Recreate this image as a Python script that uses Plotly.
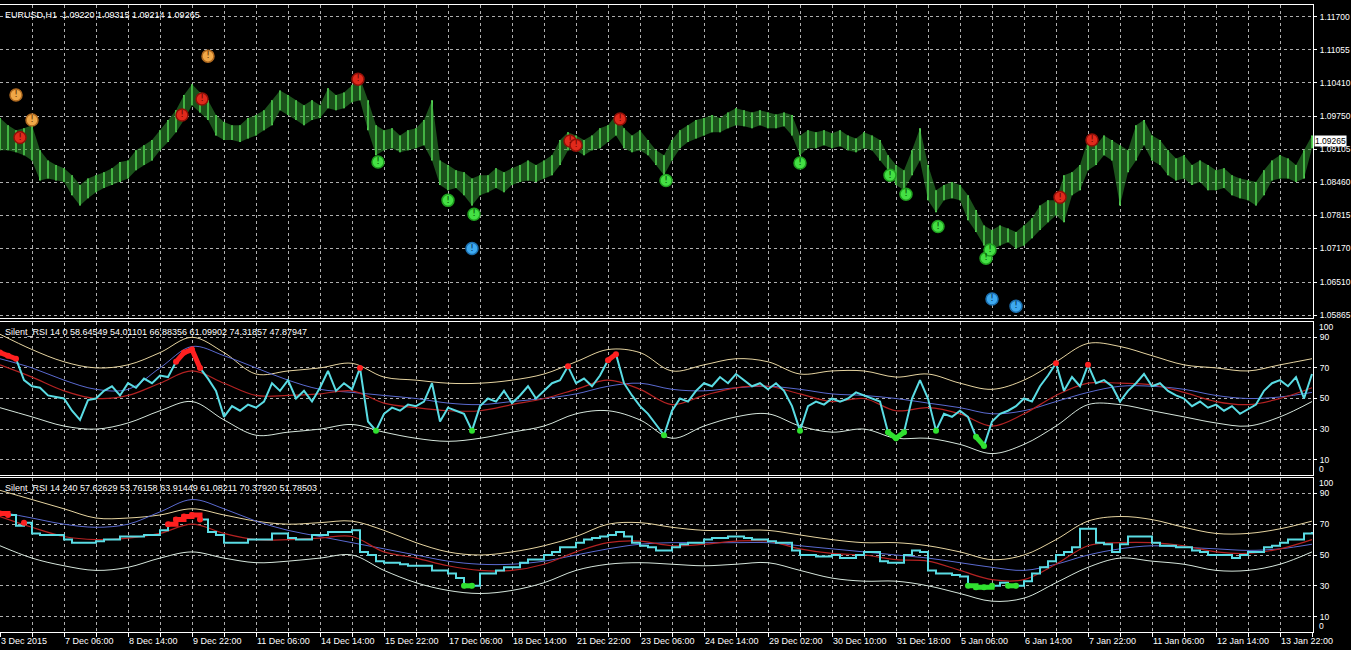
import plotly.graph_objects as go

# ---------------- data ----------------
SAMPLE_STEP = 4      # bars between price / RSI samples
SMOOTH_STEP = 16     # bars between samples of the smooth indicator lines

PRICE_HIGH = [
    1.0972, 1.0958, 1.0948, 1.0952, 1.0958, 1.0909, 1.0889, 1.0880,
    1.0874, 1.0860, 1.0841, 1.0854, 1.0860, 1.0866, 1.0874, 1.0886,
    1.0889, 1.0909, 1.0919, 1.0929, 1.0948, 1.0968, 1.0987, 1.1017,
    1.1038, 1.1022, 1.1007, 1.0978, 1.0964, 1.0958, 1.0958, 1.0972,
    1.0978, 1.0987, 1.1007, 1.1026, 1.1017, 1.1007, 1.0997, 1.1007,
    1.0997, 1.1030, 1.1017, 1.1022, 1.1036, 1.1050, 1.1007, 1.0958,
    1.0948, 1.0952, 1.0938, 1.0948, 1.0952, 1.0968, 1.1007, 1.0889,
    1.0880, 1.0870, 1.0866, 1.0854, 1.0860, 1.0860, 1.0874, 1.0866,
    1.0874, 1.0880, 1.0889, 1.0880, 1.0889, 1.0899, 1.0929, 1.0944,
    1.0938, 1.0929, 1.0938, 1.0952, 1.0958, 1.0978, 1.0952, 1.0938,
    1.0948, 1.0929, 1.0909, 1.0899, 1.0929, 1.0948, 1.0958, 1.0968,
    1.0972, 1.0978, 1.0972, 1.0983, 1.0991, 1.0987, 1.0983, 1.0987,
    1.0983, 1.0979, 1.0983, 1.0978, 1.0938, 1.0948, 1.0944, 1.0948,
    1.0942, 1.0948, 1.0938, 1.0932, 1.0944, 1.0938, 1.0929, 1.0899,
    1.0880, 1.0870, 1.0909, 1.0952, 1.0880, 1.0831, 1.0841, 1.0847,
    1.0841, 1.0821, 1.0792, 1.0762, 1.0753, 1.0762, 1.0756, 1.0749,
    1.0762, 1.0776, 1.0801, 1.0811, 1.0811, 1.0860, 1.0866, 1.0880,
    1.0929, 1.0919, 1.0938, 1.0929, 1.0919, 1.0909, 1.0958, 1.0968,
    1.0938, 1.0929, 1.0909, 1.0893, 1.0899, 1.0880, 1.0889, 1.0880,
    1.0870, 1.0874, 1.0860, 1.0854, 1.0850, 1.0847, 1.0870, 1.0889,
    1.0899, 1.0893, 1.0880, 1.0909, 1.0938,
]
PRICE_LOW = [
    1.0909, 1.0909, 1.0905, 1.0899, 1.0889, 1.0850, 1.0854, 1.0850,
    1.0847, 1.0821, 1.0801, 1.0815, 1.0827, 1.0835, 1.0841, 1.0847,
    1.0854, 1.0870, 1.0880, 1.0889, 1.0909, 1.0925, 1.0944, 1.0968,
    1.0997, 1.0983, 1.0968, 1.0938, 1.0929, 1.0929, 1.0925, 1.0932,
    1.0938, 1.0948, 1.0958, 1.0987, 1.0978, 1.0968, 1.0958, 1.0968,
    1.0972, 1.0991, 1.0987, 1.0991, 1.1003, 1.1007, 1.0948, 1.0899,
    1.0909, 1.0913, 1.0905, 1.0909, 1.0913, 1.0919, 1.0889, 1.0841,
    1.0831, 1.0835, 1.0821, 1.0801, 1.0821, 1.0827, 1.0835, 1.0827,
    1.0841, 1.0847, 1.0850, 1.0847, 1.0854, 1.0860, 1.0880, 1.0909,
    1.0909, 1.0899, 1.0909, 1.0913, 1.0925, 1.0938, 1.0913, 1.0905,
    1.0909, 1.0899, 1.0880, 1.0860, 1.0889, 1.0913, 1.0925, 1.0932,
    1.0938, 1.0944, 1.0944, 1.0952, 1.0958, 1.0956, 1.0952, 1.0958,
    1.0952, 1.0952, 1.0956, 1.0938, 1.0899, 1.0913, 1.0913, 1.0919,
    1.0913, 1.0917, 1.0909, 1.0905, 1.0913, 1.0909, 1.0889, 1.0870,
    1.0841, 1.0831, 1.0860, 1.0889, 1.0811, 1.0788, 1.0811, 1.0815,
    1.0811, 1.0772, 1.0749, 1.0723, 1.0714, 1.0723, 1.0729, 1.0717,
    1.0723, 1.0737, 1.0753, 1.0768, 1.0782, 1.0768, 1.0821, 1.0831,
    1.0870, 1.0880, 1.0899, 1.0889, 1.0801, 1.0866, 1.0889, 1.0919,
    1.0889, 1.0880, 1.0860, 1.0850, 1.0854, 1.0841, 1.0847, 1.0831,
    1.0831, 1.0835, 1.0821, 1.0815, 1.0811, 1.0801, 1.0821, 1.0850,
    1.0854, 1.0854, 1.0847, 1.0854, 1.0913,
]

RSI1 = [
    80, 78, 76, 62, 58, 57, 52, 51,
    50, 42, 36, 49, 50, 55, 58, 52,
    60, 57, 63, 60, 65, 64, 74, 80,
    82, 70, 63, 55, 38, 45, 42, 46,
    44, 48, 60, 55, 62, 50, 55, 48,
    57, 68, 55, 60, 56, 70, 35, 29,
    40, 44, 42, 46, 45, 48, 60, 35,
    44, 42, 40, 29, 45, 50, 48, 55,
    47, 52, 58, 50, 55, 60, 62, 71,
    60, 63, 58, 65, 75, 79, 60, 52,
    45, 40, 33, 26, 42, 50, 48, 55,
    60, 58, 64, 60, 66, 62, 58, 60,
    56, 60, 55, 45, 29, 45, 48, 46,
    50, 48, 50, 54, 52, 50, 48, 28,
    24, 28, 50, 62, 50, 29, 40, 38,
    42, 38, 25, 19, 35, 40, 42, 45,
    50, 48, 58, 65, 73, 55, 64, 58,
    72, 60, 62, 58, 48, 55, 60, 66,
    58, 60, 55, 52, 50, 45, 48, 44,
    46, 42, 45, 40, 43, 46, 55, 60,
    62, 58, 64, 50, 66,
]
RSI2 = [
    77, 76, 69, 71, 64, 63, 63, 63,
    60, 58, 58, 58, 59, 60, 60, 62,
    62, 62, 63, 63, 66, 70, 73, 75,
    76, 73, 65, 63, 58, 58, 58, 60,
    60, 60, 64, 64, 61, 60, 60, 63,
    63, 65, 65, 65, 66, 52, 50, 46,
    45, 45, 44, 43, 43, 43, 40, 40,
    38, 35, 30, 30, 38, 38, 40, 42,
    42, 45, 47, 47, 50, 52, 55, 55,
    58, 60, 61, 62, 63, 65, 62, 58,
    56, 55, 53, 53, 55, 57, 58, 58,
    60, 61, 61, 62, 62, 61, 60, 60,
    59, 58, 58, 53, 50, 50, 49, 49,
    50, 48, 48, 50, 52, 52, 46, 45,
    45, 50, 53, 52, 40, 38, 38, 37,
    36, 30, 29, 29, 30, 32, 30, 30,
    33, 38, 42, 46, 50, 52, 55, 67,
    67, 58, 57, 52, 57, 62, 62, 62,
    58, 56, 56, 55, 55, 53, 52, 50,
    50, 50, 48, 50, 52, 52, 55, 56,
    58, 60, 60, 64, 65,
]

SIG1 = [72, 64, 55, 50, 52, 60, 68, 60, 52, 52, 53, 55, 47, 44, 42, 42, 46, 50, 56, 62, 56,
        46, 52, 57, 58, 53, 48, 50, 42, 44, 40, 32, 40, 52, 60, 60, 59, 54, 48, 46, 50, 57]
BLUE1 = [76, 70, 62, 56, 56, 70, 84, 78, 70, 62, 56, 54, 52, 50, 47, 46, 48, 50, 53, 58, 60,
         56, 55, 57, 58, 56, 53, 52, 50, 47, 44, 40, 42, 48, 54, 58, 58, 56, 52, 50, 51, 54]
UP1 = [92, 82, 74, 70, 72, 80, 90, 80, 66, 68, 70, 73, 64, 62, 60, 60, 62, 66, 74, 82, 80,
       68, 72, 76, 74, 66, 68, 68, 64, 66, 60, 56, 62, 74, 86, 84, 78, 72, 70, 68, 72, 76]
LO1 = [44, 38, 32, 30, 34, 42, 48, 36, 26, 28, 30, 33, 28, 24, 22, 24, 28, 32, 40, 42, 36,
       24, 32, 38, 40, 32, 28, 30, 24, 24, 20, 14, 20, 32, 46, 46, 42, 38, 34, 32, 38, 48]

SIG2 = [75, 68, 62, 60, 61, 64, 70, 64, 60, 60, 61, 62, 52, 48, 43, 40, 40, 44, 52, 58, 59,
        56, 57, 59, 59, 54, 51, 50, 47, 46, 40, 34, 34, 44, 56, 58, 58, 56, 52, 51, 54, 60]
BLUE2 = [78, 74, 70, 68, 70, 78, 86, 80, 72, 66, 62, 58, 54, 50, 46, 44, 44, 46, 50, 54, 57,
         58, 58, 58, 58, 56, 54, 52, 50, 48, 45, 42, 40, 44, 50, 54, 56, 55, 54, 53, 54, 57]
UP2 = [92, 86, 80, 74, 74, 76, 80, 76, 72, 70, 71, 72, 66, 58, 52, 50, 52, 56, 62, 70, 71,
       68, 66, 66, 66, 63, 60, 58, 58, 56, 52, 47, 50, 60, 72, 75, 73, 68, 64, 64, 67, 72]
LO2 = [56, 48, 43, 40, 42, 48, 52, 48, 45, 46, 48, 50, 40, 32, 27, 25, 27, 32, 40, 44, 45,
       44, 43, 44, 45, 40, 35, 33, 33, 30, 25, 20, 22, 32, 42, 48, 46, 44, 40, 40, 44, 52]

OVERBOUGHT = 70
OVERSOLD = 30

TIME_LABELS = ["3 Dec 2015", "7 Dec 06:00", "8 Dec 14:00", "9 Dec 22:00", "11 Dec 06:00",
               "14 Dec 14:00", "15 Dec 22:00", "17 Dec 06:00", "18 Dec 14:00", "21 Dec 22:00",
               "23 Dec 06:00", "24 Dec 14:00", "29 Dec 02:00", "30 Dec 10:00", "31 Dec 18:00",
               "5 Jan 06:00", "6 Jan 14:00", "7 Jan 22:00", "11 Jan 06:00", "12 Jan 14:00",
               "13 Jan 22:00"]
PRICE_TICKS = [1.11700, 1.11055, 1.10410, 1.09750, 1.09105, 1.08460, 1.07815, 1.07170, 1.06510, 1.05865]
RSI_TICKS = [10, 30, 50, 70, 90]
LAST_PRICE = 1.09265

SIG_ORANGE_X = [8, 16, 104]
SIG_ORANGE_Y = [1.1017, 1.0968, 1.1093]
SIG_RED_X = [10, 91, 101, 179, 285, 288, 310, 530, 546]
SIG_RED_Y = [1.0934, 1.0978, 1.1009, 1.1048, 1.0927, 1.0919, 1.0970, 1.0817, 1.0929]
SIG_GREEN_X = [189, 224, 237, 333, 400, 445, 453, 469, 493, 495]
SIG_GREEN_Y = [1.0886, 1.0811, 1.0784, 1.0850, 1.0884, 1.0860, 1.0823, 1.0760, 1.0698, 1.0714]
SIG_BLUE_X = [236, 496, 508]
SIG_BLUE_Y = [1.0717, 1.0618, 1.0604]

HEADER_MAIN = "EURUSD,H1  1.09220 1.09315 1.09214 1.09265"
HEADER_RSI1 = "Silent_RSI 14 0 58.64549 54.01101 66.88356 61.09902 74.31857 47.87947"
HEADER_RSI2 = "Silent_RSI 14 240 57.62629 53.76158 63.91449 61.08211 70.37920 51.78503"

# ---------------- figure ----------------
FONT = "Liberation Sans, Arial, sans-serif"
GRID = "rgba(205,205,205,0.85)"
xs = [i * SAMPLE_STEP for i in range(len(PRICE_HIGH))]
xs_r1 = [i * SAMPLE_STEP for i in range(len(RSI1))]
xs_r2 = [i * SAMPLE_STEP for i in range(len(RSI2))]
xs_s = [i * SMOOTH_STEP for i in range(len(SIG1))]
N_BARS = 656.5

fig = go.Figure()

# price: a dim ribbon between highs and lows, with bright bars on top
fig.add_trace(go.Scatter(x=xs, y=PRICE_LOW, mode="lines", line=dict(width=0, color="rgba(0,0,0,0)"),
                         xaxis="x", yaxis="y", showlegend=False, hoverinfo="skip"))
fig.add_trace(go.Scatter(x=xs, y=PRICE_HIGH, mode="lines", line=dict(width=0, color="rgba(0,0,0,0)"),
                         fill="tonexty", fillcolor="rgba(50,150,50,0.55)",
                         xaxis="x", yaxis="y", showlegend=False, hoverinfo="skip"))
fig.add_trace(go.Bar(
    x=xs, y=[h - l for h, l in zip(PRICE_HIGH, PRICE_LOW)], base=PRICE_LOW,
    width=1.0, marker=dict(color="#5ad85a", line=dict(width=0)),
    xaxis="x", yaxis="y", showlegend=False, hoverinfo="skip"))

def sig(xv, yv, fill, ring, txt):
    fig.add_trace(go.Scatter(
        x=xv, y=yv, mode="markers+text", text=["!"] * len(xv),
        textposition="middle center",
        textfont=dict(family="DejaVu Sans", size=9, color=txt),
        marker=dict(size=12, color=fill, line=dict(color=ring, width=1.5)),
        xaxis="x", yaxis="y", showlegend=False, hoverinfo="skip"))

sig(SIG_ORANGE_X, SIG_ORANGE_Y, "#f0a848", "#b06a20", "#5a2a00")
sig(SIG_RED_X, SIG_RED_Y, "#e02a1c", "#901008", "#600000")
sig(SIG_GREEN_X, SIG_GREEN_Y, "#44e044", "#20a020", "#004400")
sig(SIG_BLUE_X, SIG_BLUE_Y, "#3eaaf0", "#1c70b0", "#002a50")


def rsi_panel(xa, ya, rsi, xr, sigl, blue, up, lo, shape):
    common = dict(xaxis=xa, yaxis=ya, showlegend=False, hoverinfo="skip", mode="lines")
    fig.add_trace(go.Scatter(x=xs_s, y=up, line=dict(color="#e6d4a0", width=1, shape="spline"), **common))
    fig.add_trace(go.Scatter(x=xs_s, y=lo, line=dict(color="#d6e6dc", width=1, shape="spline"), **common))
    fig.add_trace(go.Scatter(x=xs_s, y=blue, line=dict(color="#5a6ad0", width=1, shape="spline"), **common))
    fig.add_trace(go.Scatter(x=xs_s, y=sigl, line=dict(color="#b42222", width=1.2, shape="spline"), **common))
    fig.add_trace(go.Scatter(x=xr, y=rsi, line=dict(color="#5adce4", width=2, shape=shape), **common))
    ob = [v if v >= OVERBOUGHT else None for v in rsi]
    os_ = [v if v <= OVERSOLD else None for v in rsi]
    fig.add_trace(go.Scatter(x=xr, y=ob, mode="lines+markers",
                             line=dict(color="#ff2020", width=5, shape=shape),
                             marker=dict(color="#ff2020", size=6),
                             xaxis=xa, yaxis=ya, showlegend=False, hoverinfo="skip"))
    fig.add_trace(go.Scatter(x=xr, y=os_, mode="lines+markers",
                             line=dict(color="#30e030", width=5, shape=shape),
                             marker=dict(color="#30e030", size=6),
                             xaxis=xa, yaxis=ya, showlegend=False, hoverinfo="skip"))

rsi_panel("x2", "y2", RSI1, xs_r1, SIG1, BLUE1, UP1, LO1, "linear")
rsi_panel("x3", "y3", RSI2, xs_r2, SIG2, BLUE2, UP2, LO2, "hv")

# axes
tickvals_x = list(range(0, 657, 16))
ticktext_x = []
for i, _ in enumerate(tickvals_x):
    ticktext_x.append(TIME_LABELS[i // 2] if i % 2 == 0 and i // 2 < len(TIME_LABELS) else "")

xcommon = dict(range=[0, N_BARS], showgrid=True, gridcolor=GRID, griddash="3px,3px", gridwidth=1,
               tickvals=tickvals_x, zeroline=False, showline=True, mirror=True,
               linecolor="#ffffff", linewidth=1, fixedrange=True)
ycommon = dict(side="right", showgrid=True, gridcolor=GRID, griddash="3px,3px", gridwidth=1,
               zeroline=False, showline=True, mirror=True, linecolor="#ffffff", linewidth=1,
               ticks="outside", ticklen=3, tickcolor="#ffffff", ticklabelstandoff=1,
               fixedrange=True, tickfont=dict(family=FONT, size=8.5, color="#ffffff"))

H = 627.0
def dom(top_px, bot_px):
    return [(632 - bot_px) / H, (632 - top_px) / H]

fig.update_layout(
    width=1351, height=650,
    paper_bgcolor="#000000", plot_bgcolor="#000000",
    margin=dict(l=0, r=38, t=5, b=18),
    barmode="overlay",
    font=dict(family=FONT, size=9, color="#ffffff"),
    xaxis=dict(anchor="y", showticklabels=False, ticks="", **xcommon),
    xaxis2=dict(anchor="y2", matches="x", showticklabels=False, ticks="", **xcommon),
    xaxis3=dict(anchor="y3", matches="x", showticklabels=True, ticktext=ticktext_x,
                ticks="outside", ticklen=4, tickcolor="#ffffff",
                ticklabelposition="outside right",
                tickfont=dict(family=FONT, size=9, color="#ffffff"), **xcommon),
    yaxis=dict(anchor="x", domain=dom(5, 318), range=[1.0581, 1.1193],
               tickvals=PRICE_TICKS, ticktext=["%.5f" % v for v in PRICE_TICKS], **ycommon),
    yaxis2=dict(anchor="x2", domain=dom(322, 475), range=[0, 100],
                tickvals=RSI_TICKS, ticktext=[str(v) for v in RSI_TICKS], **ycommon),
    yaxis3=dict(anchor="x3", domain=dom(478, 632), range=[0, 100],
                tickvals=RSI_TICKS, ticktext=[str(v) for v in RSI_TICKS], **ycommon),
)

ann = []
for txt, ytop in [(HEADER_MAIN, 1.0), (HEADER_RSI1, dom(322, 475)[1]), (HEADER_RSI2, dom(478, 632)[1])]:
    ann.append(dict(text=txt, x=0, y=ytop, xref="paper", yref="paper", xanchor="left", yanchor="top",
                    xshift=3, yshift=-3, showarrow=False, font=dict(family=FONT, size=9, color="#ffffff")))
for ya in ["y2", "y3"]:
    ann.append(dict(text="100", x=1, y=100, xref="paper", yref=ya, xanchor="left", yanchor="top",
                    xshift=4, yshift=2, showarrow=False, font=dict(family=FONT, size=8.5, color="#ffffff")))
    ann.append(dict(text="0", x=1, y=0, xref="paper", yref=ya, xanchor="left", yanchor="bottom",
                    xshift=4, yshift=-1, showarrow=False, font=dict(family=FONT, size=8.5, color="#ffffff")))
ann.append(dict(text="%.5f" % LAST_PRICE, x=1, y=LAST_PRICE, xref="paper", yref="y",
                xanchor="left", yanchor="middle", xshift=1, showarrow=False, bgcolor="#ffffff",
                borderpad=0, font=dict(family=FONT, size=8.5, color="#000000")))
fig.update_layout(annotations=ann)

fig.write_html("out.html", config={"displayModeBar": False},
               post_script="document.body.style.margin='0px';document.body.style.background='#000';")
